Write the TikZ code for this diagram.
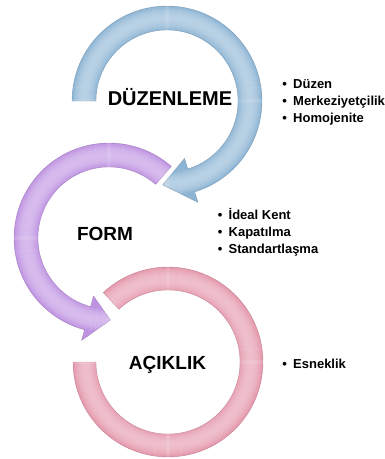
\documentclass[tikz,border=0pt]{standalone}
\usepackage{fontspec}
\setmainfont{Liberation Sans}
\definecolor{blueB}{RGB}{140,180,212}
\definecolor{purpB}{RGB}{190,146,226}
\definecolor{pinkB}{RGB}{228,150,170}
\newcommand\ringshade[1]{%
  \foreach \r in {57,58,...,109}{%
    \pgfmathtruncatemacro\p{min(100,62+38*((\r-83)/12)*((\r-83)/12))}%
    \draw[line width=1.4pt,draw=#1!\p!white] (0,0) circle[radius=\r];
  }}
\newcommand\pinkshape{(133:95) arc[start angle=133,end angle=-180,radius=95] -- (-180:72) arc[start angle=-180,end angle=133,radius=72] -- cycle}
\newcommand\purpshape{(49:95) arc[start angle=49,end angle=255,radius=95] -- (255:106) -- (271:82) -- (255:60) -- (255:71) arc[start angle=255,end angle=49,radius=71] -- cycle}
\newcommand\blueshape{(180:95) arc[start angle=180,end angle=-73,radius=95] -- (-73:106) -- (-93:84) -- (-73:60) -- (-73:71) arc[start angle=-73,end angle=180,radius=71] -- cycle}
\tikzset{
  heading/.style={font=\bfseries\fontsize{19}{22}\selectfont, anchor=base, inner sep=0pt},
  item/.style={font=\bfseries\fontsize{13}{16}\selectfont, anchor=base west, inner sep=0pt},
  rim/.style={draw=#1!70!black, line width=0.4pt, draw opacity=0.5}
}
\newcommand\bul[1]{\makebox[10pt][l]{\hspace{-0.8pt}•}#1}
\begin{document}
\begin{tikzpicture}[x=1pt,y=1pt]
\useasboundingbox (0,0) rectangle (385,-459);
\coordinate (cP) at (168,-362);
\coordinate (cV) at (109,-238);
\coordinate (cB) at (167,-101);
% pink ring
\begin{scope}[shift={(cP)}]
  \begin{scope}
    \clip \pinkshape;
    \ringshade{pinkB}
  \end{scope}
  \draw[rim=pinkB] \pinkshape;
\end{scope}
% purple arrow
\begin{scope}[shift={(cV)}]
  \begin{scope}
    \clip \purpshape;
    \ringshade{purpB}
  \end{scope}
  \draw[rim=purpB] \purpshape;
\end{scope}
% blue arrow
\begin{scope}[shift={(cB)}]
  \begin{scope}
    \clip \blueshape;
    \ringshade{blueB}
  \end{scope}
  \draw[rim=blueB] \blueshape;
\end{scope}
% headings
\node[heading, font=\bfseries\fontsize{20}{24}\selectfont] (duz) at (170,-105) {DÜZENLEME};
\node[heading] (form) at (105,-240) {FORM};
\node[heading] (acik) at (167.5,-369) {AÇIKLIK};
% lists
\node[item] (l1a) at (283,-88) {\bul{Düzen}};
\node[item] (l1b) at (283,-105) {\bul{Merkeziyetçilik}};
\node[item] (l1c) at (283,-122) {\bul{Homojenite}};
\node[item] (l2a) at (218.5,-219) {\bul{İdeal Kent}};
\node[item] (l2b) at (218.5,-236) {\bul{Kapatılma}};
\node[item] (l2c) at (218.5,-253) {\bul{Standartlaşma}};
\node[item] (l3a) at (283,-368) {\bul{Esneklik}};
\end{tikzpicture}
\end{document}
